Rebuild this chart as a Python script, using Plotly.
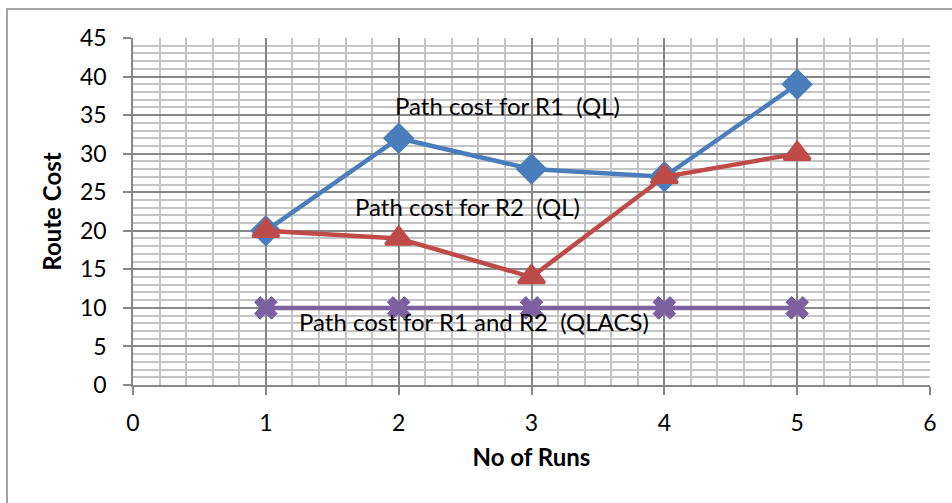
import plotly.graph_objects as go

runs = [1, 2, 3, 4, 5]
r1_ql = [20, 32, 28, 27, 39]
r2_ql = [20, 19, 14, 27, 30]
qlacs = [10, 10, 10, 10, 10]

labels = ["Path cost for R1  (QL)", "Path cost for R2  (QL)", "Path cost for R1 and R2  (QLACS)"]
label_x = [2.82, 2.52, 2.57]
label_y = [36.3, 23.1, 8.2]

FONT = "Lato"
blue, red, purple = "#4A7EBB", "#BE4B48", "#7D60A0"

fig = go.Figure()
fig.add_trace(go.Scatter(x=runs, y=r1_ql, mode="lines+markers",
                         line=dict(color=blue, width=4.5),
                         marker=dict(symbol="diamond", size=21, color=blue,
                                     line=dict(color=blue, width=3))))
fig.add_trace(go.Scatter(x=runs, y=r2_ql, mode="lines+markers",
                         line=dict(color=red, width=4.5),
                         marker=dict(symbol="triangle-up", size=23, color=red,
                                     line=dict(color=red, width=3))))
fig.add_trace(go.Scatter(x=runs, y=qlacs, mode="lines+markers",
                         line=dict(color=purple, width=4.5),
                         marker=dict(symbol="x", size=20, color=purple,
                                     line=dict(color=purple, width=1))))

for t, x, y in zip(labels, label_x, label_y):
    fig.add_annotation(x=x, y=y, text=t, showarrow=False,
                       font=dict(family=FONT, size=24, color="black"))

fig.update_xaxes(range=[0, 6], dtick=1, tick0=0, showgrid=True, gridcolor="#878787", gridwidth=1.5,
                 minor=dict(dtick=0.2, showgrid=True, gridcolor="#C4C4C4", gridwidth=1.5),
                 ticks="outside", ticklen=8, tickcolor="#878787", tickwidth=1.5,
                 showline=True, linecolor="#878787", linewidth=1.5, zeroline=False,
                 ticklabelstandoff=9,
                 tickfont=dict(family=FONT, size=23, color="black"),
                 title=dict(text="<b>No of Runs</b>", font=dict(family=FONT, size=24, color="black"), standoff=14))
fig.update_yaxes(range=[0, 45], dtick=5, tick0=0, showgrid=True, gridcolor="#878787", gridwidth=1.5,
                 minor=dict(dtick=1, showgrid=True, gridcolor="#C4C4C4", gridwidth=1.5),
                 ticks="outside", ticklen=8, tickcolor="#878787", tickwidth=1.5,
                 showline=True, linecolor="#878787", linewidth=1.5, zeroline=False,
                 ticklabelstandoff=12,
                 tickfont=dict(family=FONT, size=23, color="black"),
                 title=dict(text="<b>Route Cost</b>", font=dict(family=FONT, size=24, color="black"), standoff=12))

fig.add_shape(type="rect", xref="paper", yref="paper",
              x0=-126/797, x1=1.05, y0=-0.5, y1=1 + 29/347,
              line=dict(color="#878787", width=1.5), layer="below")

fig.update_layout(width=952, height=503, showlegend=False,
                  margin=dict(l=133, r=22, t=38, b=118),
                  plot_bgcolor="white", paper_bgcolor="white")

fig.write_html("out.html", config={"displayModeBar": False},
               post_script="document.body.style.margin='0';")
